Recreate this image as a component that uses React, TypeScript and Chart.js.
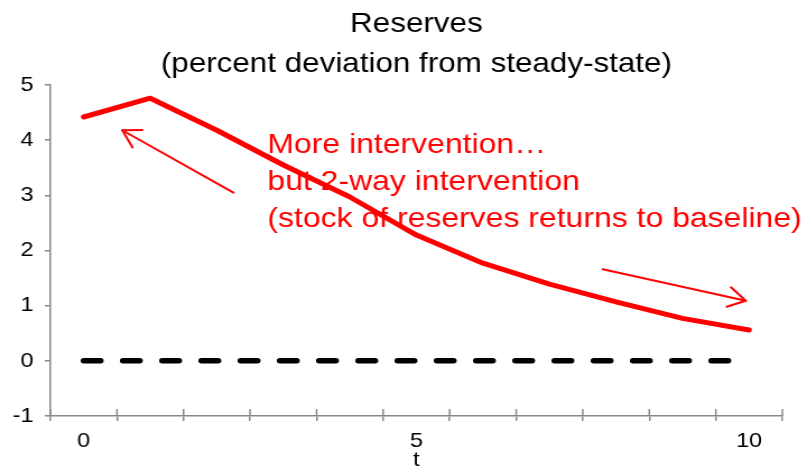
import React, { useEffect, useRef } from 'react';
import { Chart, registerables } from 'chart.js';

Chart.register(...registerables);

// ---------- data ----------
const periods = ['0', '1', '2', '3', '4', '5', '6', '7', '8', '9', '10'];
const reserves = [4.42, 4.76, 4.18, 3.55, 2.97, 2.28, 1.77, 1.39, 1.07, 0.77, 0.56];
const baseline = [0, 0, 0, 0, 0, 0, 0, 0, 0, 0, 0];
const shownTickLabels = ['0', '5', '10'];
const yTicks = { min: -1, max: 5, step: 1 };
const titleLines = ['Reserves', '(percent deviation from steady-state)'];
const xTitle = 't';
const noteLines = [
  'More intervention\u2026',
  'but 2-way intervention',
  '(stock of reserves returns to baseline)',
];
// annotation anchors in data coordinates (category index, value)
const noteAnchor = { x: 2.76, y: 3.77 };
const arrowFrom = [
  { x: 2.25, y: 3.05 },
  { x: 7.8, y: 1.66 },
];
const arrowTo = [
  { x: 0.58, y: 4.18 },
  { x: 9.95, y: 1.09 },
];

// ---------- styles ----------
const W = 720;
const H = 469;
const STRETCH = 807 / W;
const FONT = "'Liberation Sans', Arial, sans-serif";
const RED = '#ff0000';
const AXIS = '#898989';

const annotationPlugin = {
  id: 'notes',
  afterDatasetsDraw(chart: any) {
    const { ctx, scales } = chart;
    const xs = scales.x;
    const ys = scales.y;
    ctx.save();
    ctx.strokeStyle = RED;
    ctx.fillStyle = RED;
    ctx.lineWidth = 2;
    ctx.lineCap = 'round';
    for (let i = 0; i < arrowFrom.length; i++) {
      const x1 = xs.getPixelForValue(arrowFrom[i].x);
      const y1 = ys.getPixelForValue(arrowFrom[i].y);
      const x2 = xs.getPixelForValue(arrowTo[i].x);
      const y2 = ys.getPixelForValue(arrowTo[i].y);
      ctx.beginPath();
      ctx.moveTo(x1, y1);
      ctx.lineTo(x2, y2);
      ctx.stroke();
      const ang = Math.atan2(y1 - y2, (x1 - x2) * STRETCH);
      const L = 20;
      ctx.beginPath();
      for (const s of [-1, 1]) {
        const a = ang + (s * Math.PI) / 6;
        ctx.moveTo(x2, y2);
        ctx.lineTo(x2 + (L * Math.cos(a)) / STRETCH, y2 + L * Math.sin(a));
      }
      ctx.stroke();
    }
    ctx.font = `28.5px ${FONT}`;
    ctx.textAlign = 'left';
    ctx.textBaseline = 'alphabetic';
    const tx = xs.getPixelForValue(noteAnchor.x);
    const ty = ys.getPixelForValue(noteAnchor.y);
    noteLines.forEach((line, i) => ctx.fillText(line, tx, ty + i * 37));
    ctx.restore();
  },
  afterDraw(chart: any) {
    // inner half of the "cross" tick marks on the x axis
    const { ctx, scales } = chart;
    const xs = scales.x;
    ctx.save();
    ctx.strokeStyle = AXIS;
    ctx.lineWidth = 1.5;
    ctx.beginPath();
    for (let i = 0; i <= periods.length; i++) {
      const px = xs.getPixelForValue(i - 0.5);
      ctx.moveTo(px, xs.top);
      ctx.lineTo(px, xs.top - 7);
    }
    ctx.stroke();
    ctx.restore();
  },
};

export default function App() {
  const ref = useRef<HTMLCanvasElement>(null);
  useEffect(() => {
    document.body.style.margin = '0';
    const chart = new Chart(ref.current as HTMLCanvasElement, {
      type: 'line',
      data: {
        labels: periods,
        datasets: [
          {
            data: reserves,
            borderColor: RED,
            borderWidth: 5,
            pointRadius: 0,
            tension: 0,
            borderCapStyle: 'round',
            borderJoinStyle: 'round',
            order: 0,
          },
          {
            data: baseline,
            borderColor: '#000000',
            borderWidth: 5.5,
            borderDash: [15, 20],
            borderCapStyle: 'round',
            pointRadius: 0,
            order: 1,
          },
        ],
      },
      options: {
        responsive: false,
        devicePixelRatio: 1,
        animation: false,
        layout: { padding: { left: 0, right: 22, top: 0, bottom: 0 } },
        plugins: {
          legend: { display: false },
          tooltip: { enabled: false },
          title: {
            display: true,
            fullSize: false,
            text: titleLines,
            color: '#000000',
            font: { family: FONT, size: 28, weight: 'normal', lineHeight: 40 / 28 },
            padding: { top: 4, bottom: 1 },
          },
        },
        scales: {
          x: {
            type: 'category',
            offset: true,
            grid: {
              offset: true,
              drawOnChartArea: false,
              tickLength: 5,
              color: AXIS,
              lineWidth: 1.5,
            },
            border: { color: AXIS, width: 1.5 },
            ticks: {
              autoSkip: false,
              maxRotation: 0,
              padding: 8,
              color: '#000000',
              font: { family: FONT, size: 21 },
              callback: (_v: any, i: number) =>
                shownTickLabels.includes(periods[i]) ? periods[i] : '',
            },
            title: {
              display: true,
              text: xTitle,
              color: '#000000',
              font: { family: FONT, size: 21 },
              padding: { top: 0, bottom: -4 },
            },
            afterFit: (s: any) => {
              s.height = 53;
            },
          },
          y: {
            min: yTicks.min,
            max: yTicks.max,
            ticks: {
              stepSize: yTicks.step,
              padding: 10,
              color: '#000000',
              font: { family: FONT, size: 21 },
            },
            grid: {
              drawOnChartArea: false,
              tickLength: 5,
              color: AXIS,
              lineWidth: 1.5,
            },
            border: { color: AXIS, width: 1.5 },
            afterFit: (s: any) => {
              s.width = 45;
            },
          },
        },
      },
      plugins: [annotationPlugin],
    } as any);
    return () => chart.destroy();
  }, []);
  return (
    <div
      style={{
        position: 'absolute',
        left: 0,
        top: 0,
        width: W,
        height: H,
        transform: `scaleX(${STRETCH})`,
        transformOrigin: '0 0',
      }}
    >
      <canvas ref={ref} width={W} height={H} />
    </div>
  );
}
